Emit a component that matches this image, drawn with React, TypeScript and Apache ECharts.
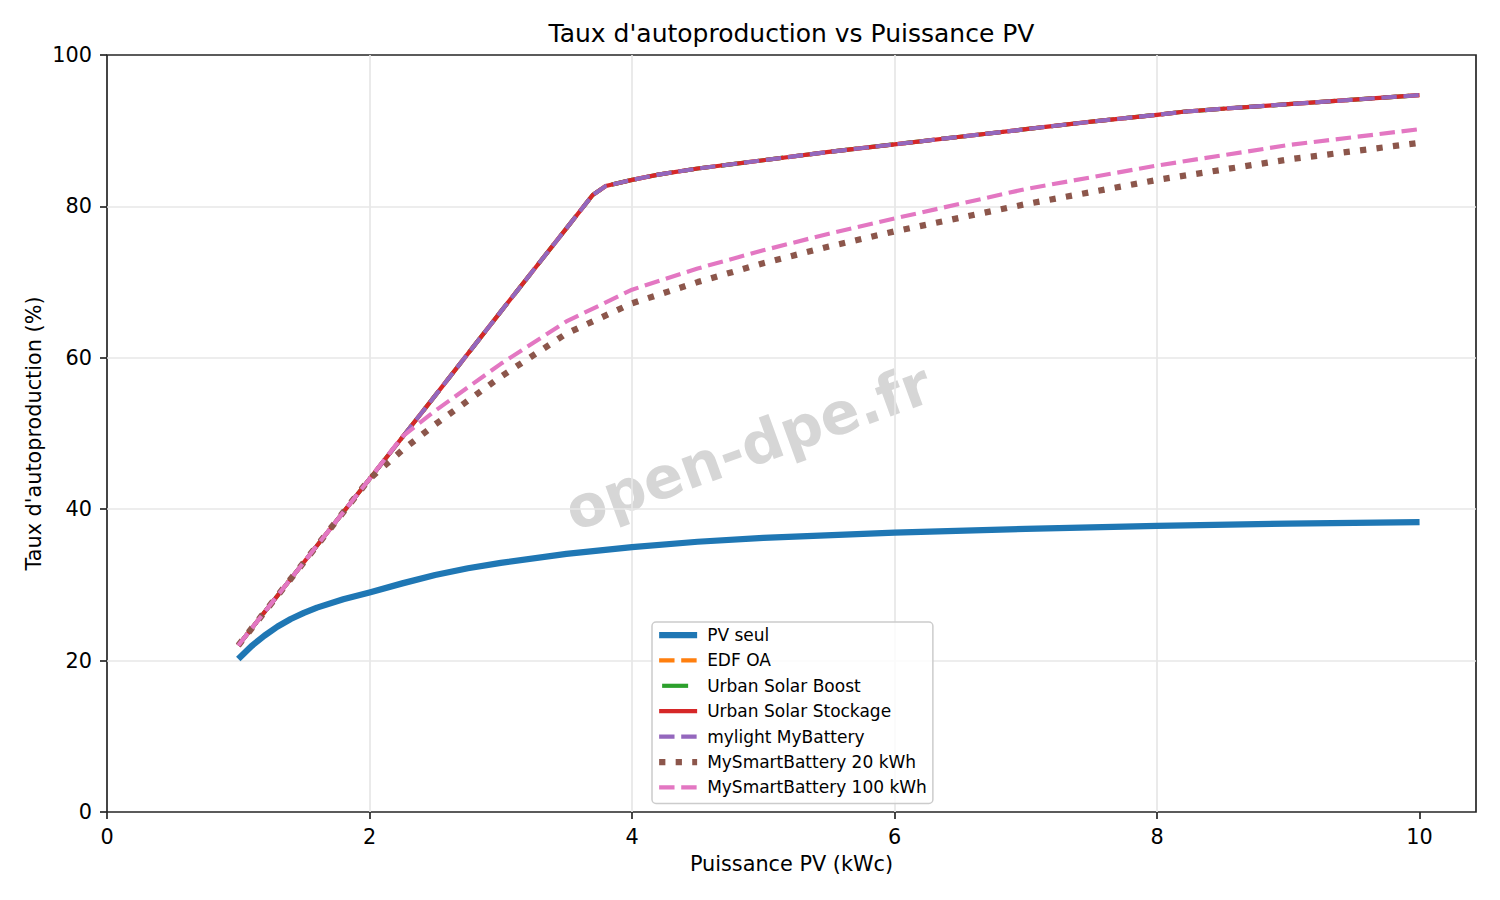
import { useEffect, useRef } from "react";
import * as echarts from "echarts";

// puissance PV (kWc) et taux d'autoproduction (%)
const kwcPvSeul = [1, 1.1, 1.2, 1.3, 1.4, 1.5, 1.6, 1.8, 2, 2.25, 2.5, 2.75, 3, 3.5, 4, 4.5, 5, 6, 7, 8, 9, 10];
const tauxPvSeul = [20.2, 21.9, 23.3, 24.5, 25.5, 26.3, 27.0, 28.1, 29.0, 30.2, 31.3, 32.2, 32.9, 34.1, 35.0, 35.7, 36.2, 36.9, 37.4, 37.8, 38.1, 38.3];

// EDF OA, Urban Solar Boost/Stockage et mylight donnent la même courbe
const kwcOffres = [1, 1.5, 2, 2.5, 3, 3.5, 3.7, 3.8, 4, 4.2, 4.5, 5, 5.5, 6, 6.5, 7, 7.5, 8, 8.2, 8.5, 9, 9.5, 10];
const tauxOffres = [22.0, 33.0, 44.0, 55.0, 66.1, 77.1, 81.5, 82.7, 83.5, 84.2, 85.0, 86.1, 87.2, 88.2, 89.2, 90.2, 91.2, 92.1, 92.5, 92.9, 93.5, 94.1, 94.7];

const kwcMsb = [1, 1.5, 2, 2.25, 2.5, 3, 3.5, 4, 4.5, 5, 5.5, 6, 7, 8, 9, 10];
const tauxMsb20 = [22.0, 33.0, 44.0, 47.8, 51.2, 57.5, 63.2, 67.2, 70.0, 72.5, 74.7, 76.7, 80.3, 83.5, 86.2, 88.4];
const tauxMsb100 = [22.0, 33.0, 44.0, 49.6, 53.0, 59.2, 64.8, 69.0, 71.8, 74.2, 76.4, 78.4, 82.3, 85.4, 88.1, 90.2];

const xTicks = [0, 2, 4, 6, 8, 10];

const FONT = "DejaVu Sans";
const DASH = [15.4, 6.7];

function serie(name: string, xs: number[], ys: number[], color: string, width: number, type: any, extra: any = {}) {
  return {
    name,
    type: "line",
    data: xs.map((x, i) => [x, ys[i]]),
    symbol: "none",
    silent: true,
    itemStyle: { color },
    lineStyle: { color, width, type, cap: "butt", join: "round", ...extra },
  };
}

function App() {
  const chartRef = useRef<HTMLDivElement>(null);

  useEffect(() => {
    const chart = echarts.init(chartRef.current, null, { renderer: "svg" });

    chart.setOption({
      animation: false,
      grid: {
        left: 107,
        right: 24,
        top: 55,
        bottom: 88,
        show: true,
        borderColor: "#262626",
        borderWidth: 1.7,
      },
      xAxis: {
        type: "value",
        min: 0,
        max: 10.43,
        interval: 2,
        axisLine: { show: false },
        axisTick: {
          show: true,
          length: 7,
          customValues: xTicks,
          lineStyle: { color: "#262626", width: 1.7 },
        },
        axisLabel: {
          margin: 14,
          fontFamily: FONT,
          fontSize: 20.8,
          color: "#000",
          customValues: xTicks,
          formatter: (v: number) => (v % 2 === 0 ? String(v) : ""),
        },
        splitLine: {
          show: true,
          showMinLine: false,
          showMaxLine: false,
          lineStyle: { color: "#e7e7e7", width: 1.7 },
        },
      },
      yAxis: {
        type: "value",
        min: 0,
        max: 100,
        interval: 20,
        axisLine: { show: false },
        axisTick: { show: true, length: 7, lineStyle: { color: "#262626", width: 1.7 } },
        axisLabel: { margin: 15, fontFamily: FONT, fontSize: 20.8, color: "#000" },
        splitLine: {
          show: true,
          showMinLine: false,
          showMaxLine: false,
          lineStyle: { color: "#e7e7e7", width: 1.7 },
        },
      },
      legend: {
        orient: "vertical",
        left: 652,
        top: 622,
        padding: [3, 6, 6, 4],
        itemGap: 5.4,
        itemWidth: 38,
        itemHeight: 14,
        selectedMode: false,
        backgroundColor: "rgba(255,255,255,0.8)",
        borderColor: "#cccccc",
        borderWidth: 1.5,
        borderRadius: 4,
        itemStyle: { opacity: 0 },
        lineStyle: { width: "inherit" },
        textStyle: { fontFamily: FONT, fontSize: 17, color: "#000", lineHeight: 20, padding: [0, 0, 0, 5] },
      },
      graphic: [
        {
          type: "text",
          x: 791.5,
          y: 33,
          style: {
            text: "Taux d'autoproduction vs Puissance PV",
            font: `25px "${FONT}"`,
            fill: "#000",
            textAlign: "center",
            textVerticalAlign: "middle",
          },
        },
        {
          type: "text",
          x: 791.5,
          y: 864,
          style: {
            text: "Puissance PV (kWc)",
            font: `20.8px "${FONT}"`,
            fill: "#000",
            textAlign: "center",
            textVerticalAlign: "middle",
          },
        },
        {
          type: "text",
          x: 34,
          y: 433.5,
          rotation: Math.PI / 2,
          style: {
            text: "Taux d'autoproduction (%)",
            font: `20.8px "${FONT}"`,
            fill: "#000",
            textAlign: "center",
            textVerticalAlign: "middle",
          },
        },
        {
          type: "text",
          x: 748,
          y: 447,
          rotation: (20 * Math.PI) / 180,
          z: -1,
          style: {
            text: "open-dpe.fr",
            font: `bold 58px "${FONT}"`,
            fill: "rgba(128,128,128,0.32)",
            textAlign: "center",
            textVerticalAlign: "middle",
          },
        },
      ],
      series: [
        serie("PV seul", kwcPvSeul, tauxPvSeul, "#1f77b4", 6.25, "solid"),
        serie("EDF OA", kwcOffres, tauxOffres, "#ff7f0e", 4.17, DASH),
        serie("Urban Solar Boost", kwcOffres, tauxOffres, "#2ca02c", 4.17, [26, 11], { dashOffset: 34 }),
        serie("Urban Solar Stockage", kwcOffres, tauxOffres, "#d62728", 4.17, "solid"),
        serie("mylight MyBattery", kwcOffres, tauxOffres, "#9467bd", 4.17, DASH),
        serie("MySmartBattery 20 kWh", kwcMsb, tauxMsb20, "#8c564b", 6.25, [6.25, 10.3]),
        serie("MySmartBattery 100 kWh", kwcMsb, tauxMsb100, "#e377c2", 4.17, DASH),
      ],
    });

    return () => {
      chart.dispose();
    };
  }, []);

  return (
    <div
      ref={chartRef}
      style={{ position: "fixed", left: 0, top: 0, width: "1500px", height: "900px", background: "#fff" }}
    ></div>
  );
}

export default App;
